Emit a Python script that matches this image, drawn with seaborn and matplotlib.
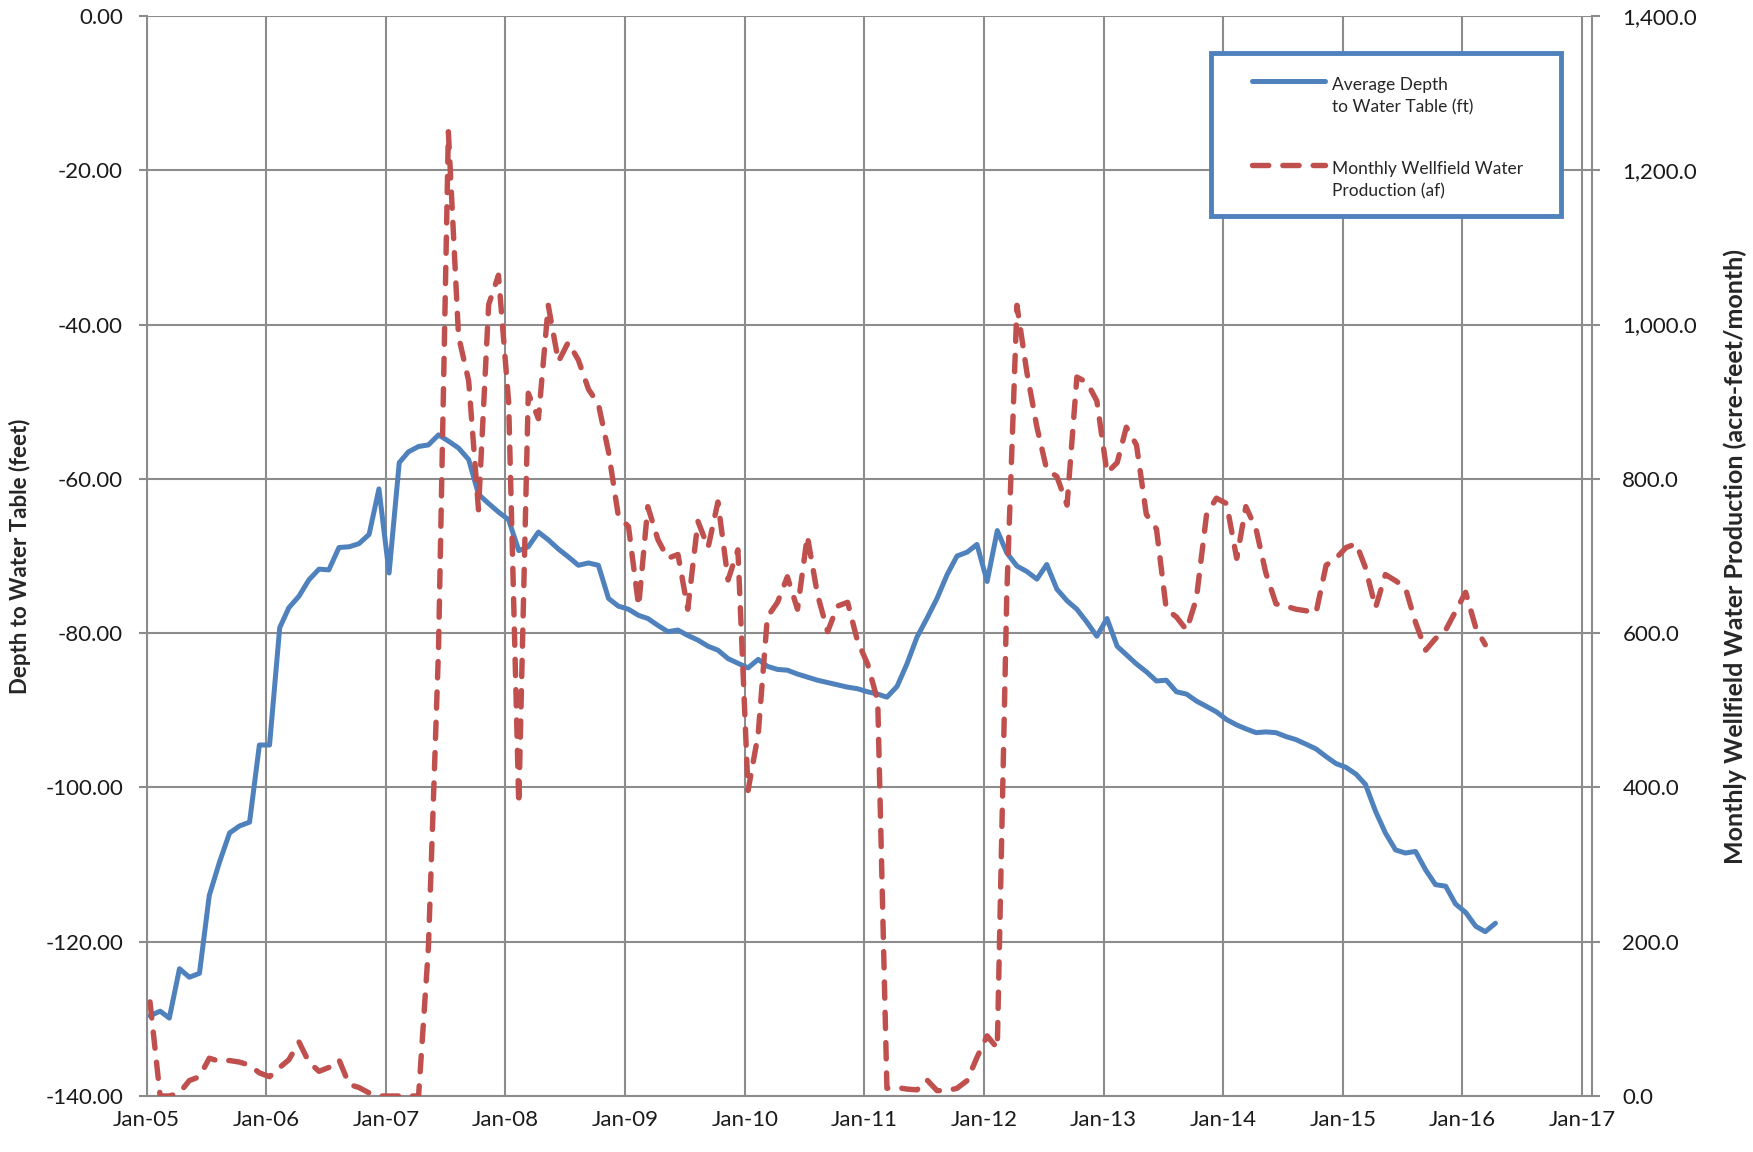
import pandas as pd
import matplotlib
matplotlib.use('Agg')
import matplotlib.pyplot as plt
import matplotlib.dates as mdates
from matplotlib.ticker import FuncFormatter, MultipleLocator
from matplotlib.lines import Line2D
from matplotlib.patches import Rectangle
from matplotlib.legend_handler import HandlerLine2D
import seaborn as sns

# monthly values, Jan-05 onwards
depth = [
    -129.6, -129.0, -129.9, -123.5, -124.6, -124.1, -114.0, -109.7, -105.9, -105.0, -104.5, -94.5,
    -94.5, -79.3, -76.7, -75.2, -73.1, -71.7, -71.8, -68.9, -68.8, -68.4, -67.2, -61.3,
    -72.2, -57.9, -56.5, -55.8, -55.6, -54.3, -55.1, -56.0, -57.5, -62.0, -63.2, -64.3,
    -65.3, -69.3, -68.8, -66.9, -67.9, -69.1, -70.1, -71.2, -70.9, -71.2, -75.5, -76.5,
    -76.9, -77.7, -78.1, -79.0, -79.8, -79.6, -80.3, -80.9, -81.7, -82.2, -83.3, -83.9,
    -84.5, -83.4, -84.3, -84.7, -84.8, -85.3, -85.7, -86.1, -86.4, -86.7, -87.0, -87.2,
    -87.6, -87.9, -88.3, -86.9, -84.0, -80.5, -78.1, -75.5, -72.4, -70.0, -69.5, -68.5,
    -73.3, -66.7, -69.6, -71.3, -72.0, -73.0, -71.1, -74.3, -75.8, -76.9, -78.6, -80.4,
    -78.1, -81.7, -82.8, -84.0, -85.0, -86.2, -86.1, -87.6, -87.9, -88.8, -89.5, -90.2,
    -91.2, -91.9, -92.4, -92.9, -92.8, -92.9, -93.4, -93.8, -94.4, -95.0, -96.0, -96.9,
    -97.4, -98.3, -99.6, -103.1, -105.9, -108.1, -108.5, -108.3, -110.7, -112.6, -112.8, -115.1,
    -116.2, -118.0, -118.7, -117.6,
]

production = [
    122, 0, 0, 4, 20, 25, 49, 45, 46, 44, 40, 30,
    25, 37, 47, 70, 44, 32, 37, 47, 15, 11, 4, 0,
    0, 0, 0, 0, 192, 580, 1250, 985, 927, 760, 1026, 1064,
    900, 378, 911, 878, 1025, 952, 977, 954, 916, 897, 835, 752,
    738, 635, 764, 721, 697, 702, 631, 745, 711, 770, 669, 708,
    396, 469, 621, 640, 673, 631, 726, 650, 602, 635, 640, 590,
    560, 512, 10, 11, 9, 8, 21, 7, 7, 10, 20, 50,
    78, 62, 650, 1025, 939, 867, 812, 803, 766, 932, 925, 901,
    808, 821, 867, 844, 754, 735, 631, 621, 604, 645, 754, 775,
    768, 697, 764, 735, 678, 638, 635, 631, 629, 626, 688, 697,
    711, 716, 685, 633, 676, 668, 659, 614, 578, 593, 604, 628,
    653, 607, 585,
]

depth_label = 'Average Depth\nto Water Table (ft)'
prod_label = 'Monthly Wellfield Water\nProduction (af)'

blue = '#4F81BD'
red = '#C0504D'
grid_gray = '#8C8C8C'
legend_size = 12.5
legend_linespacing = 1.5


class FirstLineHandler(HandlerLine2D):
    # put the legend line level with the first text line, as Excel does
    def create_artists(self, legend, orig_handle, xdescent, ydescent, width, height, fontsize, trans):
        artists = super().create_artists(legend, orig_handle, xdescent, ydescent,
                                         width, height, fontsize, trans)
        shift = fontsize * 1.2 * legend_linespacing / 2
        for a in artists:
            a.set_ydata([y + shift for y in a.get_ydata()])
        return artists


depth_dates = pd.date_range('2005-01-01', periods=len(depth), freq='MS') + pd.Timedelta(days=10)
prod_dates = pd.date_range('2005-01-01', periods=len(production), freq='MS') + pd.Timedelta(days=10)

sns.set_style('white')
plt.rcParams['font.family'] = ['Lato', 'DejaVu Sans']

fig = plt.figure(figsize=(17.53, 11.52), dpi=100)
ax = fig.add_axes([0.0837, 0.0486, 0.908 - 0.0837, 0.9861 - 0.0486])
ax2 = ax.twinx()

sns.lineplot(x=depth_dates, y=depth, ax=ax, color=blue, linewidth=3.6)
sns.lineplot(x=prod_dates, y=production, ax=ax2, color=red, linewidth=3.9)
red_line = ax2.get_lines()[0]
red_line.set_dashes([3.0, 2.6])
red_line.set_dash_capstyle('round')

ax.set_xlim(pd.Timestamp('2005-01-01'), pd.Timestamp('2017-01-30'))
ax.set_ylim(-140, 0)
ax2.set_ylim(0, 1400)
ax.set_xlabel('')

ax.xaxis.set_major_locator(mdates.YearLocator())
ax.xaxis.set_major_formatter(mdates.DateFormatter('%b-%y'))
ax.yaxis.set_major_locator(MultipleLocator(20))
ax.yaxis.set_major_formatter(FuncFormatter(lambda v, p: f'{v:.2f}'))
ax2.yaxis.set_major_locator(MultipleLocator(200))
ax2.yaxis.set_major_formatter(FuncFormatter(lambda v, p: f'{v:,.1f}'))

ax.grid(True, color=grid_gray, linewidth=1.5)
ax.set_axisbelow(True)

for a in (ax, ax2):
    for side in ('top', 'right', 'left', 'bottom'):
        a.spines[side].set_visible(False)
for side in ('left', 'bottom'):
    ax.spines[side].set_visible(True)
    ax.spines[side].set_color(grid_gray)
    ax.spines[side].set_linewidth(1.5)
ax2.spines['right'].set_visible(True)
ax2.spines['right'].set_color(grid_gray)
ax2.spines['right'].set_linewidth(1.5)

ax.tick_params(axis='x', length=0, pad=10, labelsize=16, colors='#1a1a1a')
ax.tick_params(axis='y', direction='out', length=6, width=1.5, color=grid_gray,
               pad=11, labelsize=16, labelcolor='#1a1a1a')
ax2.tick_params(axis='y', direction='out', length=6, width=1.5, color=grid_gray,
                pad=16, labelsize=16, labelcolor='#1a1a1a')

ax.set_ylabel('Depth to Water Table (feet)', fontsize=16, fontweight='bold')
ax.yaxis.set_label_coords(-0.080, 0.5)
ax2.set_ylabel('Monthly Wellfield Water Production (acre-feet/month)', fontsize=18,
               fontweight='bold', rotation=90)
ax2.yaxis.set_label_coords(1.091, 0.5)

# legend box, placed in figure pixels like the original
box = Rectangle((1211 / 1753, 1 - 216 / 1152), 350 / 1753, 163 / 1152,
                transform=fig.transFigure, facecolor='white', edgecolor=blue,
                linewidth=3.5, zorder=10, clip_on=False)
ax2.add_patch(box)

handles = [
    Line2D([], [], color=blue, linewidth=3.6),
    Line2D([], [], color=red, linewidth=3.9, dashes=[3.0, 2.6], dash_capstyle='round'),
]
leg = ax2.legend(handles, [depth_label, prod_label], loc='upper left',
                 bbox_to_anchor=(1252 / 1753, 1 - 77 / 1152), bbox_transform=fig.transFigure,
                 frameon=False, handlelength=4.2, handletextpad=0.4, labelspacing=2.6,
                 borderpad=0, borderaxespad=0, fontsize=legend_size,
                 handler_map={Line2D: FirstLineHandler()})
leg.set_zorder(11)
for t in leg.get_texts():
    t.set_linespacing(legend_linespacing)

fig.savefig('out.png', dpi=100)
